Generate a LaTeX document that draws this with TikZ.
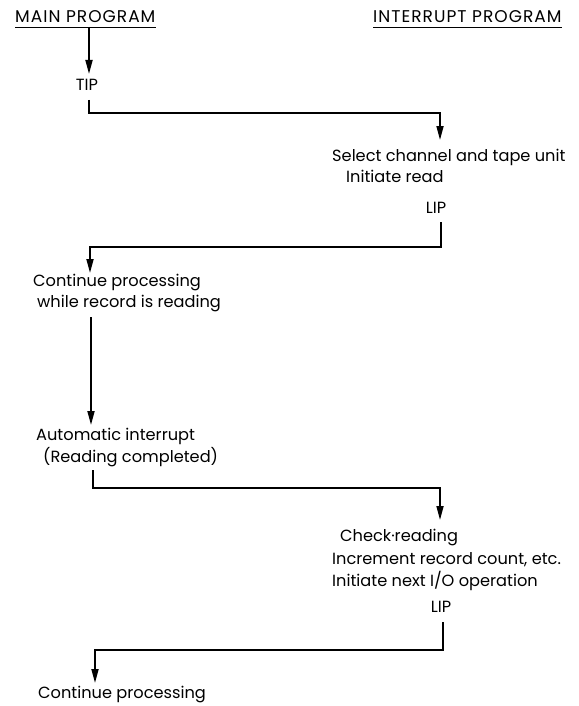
\documentclass[tikz,border=0pt]{standalone}
\usepackage{fontspec}
\setmainfont{Poppins}
\usetikzlibrary{arrows.meta}
\begin{document}
\begin{tikzpicture}[x=1pt,y=-1pt,
  lbl/.style={anchor=west,inner sep=0pt,font=\fontsize{16.2}{18}\selectfont},
  ctr/.style={anchor=center,inner sep=0pt,font=\fontsize{16.2}{18}\selectfont},
  hdr/.style={anchor=west,inner sep=0pt,font=\fontsize{17}{19}\selectfont\addfontfeature{LetterSpace=6}},
  flow/.style={line width=1.7pt,line join=miter},
  arr/.style={flow,-{Triangle[length=14pt,width=7pt]}},
  uline/.style={line width=1.1pt}]
\useasboundingbox[fill=white] (0,0) rectangle (578,706);

% headers
\node[hdr] (main) at (15,17) {MAIN PROGRAM};
\node[hdr] (intr) at (373,17) {INTERRUPT PROGRAM};
\draw[uline] ([yshift=-4pt]main.south west) -- ([yshift=-4pt]main.south east);
\draw[uline] ([yshift=-4pt]intr.south west) -- ([yshift=-4pt]intr.south east);

% texts
\node[ctr] (tip) at (87,85) {TIP};
\node[lbl] (sel1) at (332,157) {Select channel and tape unit};
\node[lbl] (sel2) at (346,176) {Initiate read};
\node[ctr] (lip1) at (436,208) {LIP};
\node[lbl] (cp1) at (33,283) {Continue processing};
\node[lbl] (cp2) at (37,304) {while record is reading};
\node[lbl] (ai1) at (36,436) {Automatic interrupt};
\node[lbl] (ai2) at (43,457) {(Reading completed)};
\node[lbl] (ck1) at (340,538) {Check·reading};
\node[lbl] (ck2) at (332,560) {Increment record count, etc.};
\node[lbl] (ck3) at (332,581) {Initiate next I/O operation};
\node[ctr] (lip2) at (441,607) {LIP};
\node[lbl] (cp3) at (38,695) {Continue processing};

% connector points
\coordinate (a0) at (89,27);  \coordinate (a1) at (89,74);
\coordinate (b0) at (89,100); \coordinate (b1) at (89,113);
\coordinate (b2) at (440,113); \coordinate (b3) at (440,140);
\coordinate (c0) at (441,222); \coordinate (c1) at (441,247);
\coordinate (c2) at (90,247);  \coordinate (c3) at (90,273);
\coordinate (d0) at (91,317);  \coordinate (d1) at (91,425);
\coordinate (e0) at (93,470);  \coordinate (e1) at (93,488);
\coordinate (e2) at (440,488); \coordinate (e3) at (440,520);
\coordinate (f0) at (443,622); \coordinate (f1) at (443,650);
\coordinate (f2) at (95,650);  \coordinate (f3) at (95,683);

% connectors
\draw[arr] (a0) -- (a1);
\draw[arr] (b0) -- (b1) -- (b2) -- (b3);
\draw[arr] (c0) -- (c1) -- (c2) -- (c3);
\draw[arr] (d0) -- (d1);
\draw[arr] (e0) -- (e1) -- (e2) -- (e3);
\draw[arr] (f0) -- (f1) -- (f2) -- (f3);
\end{tikzpicture}
\end{document}
